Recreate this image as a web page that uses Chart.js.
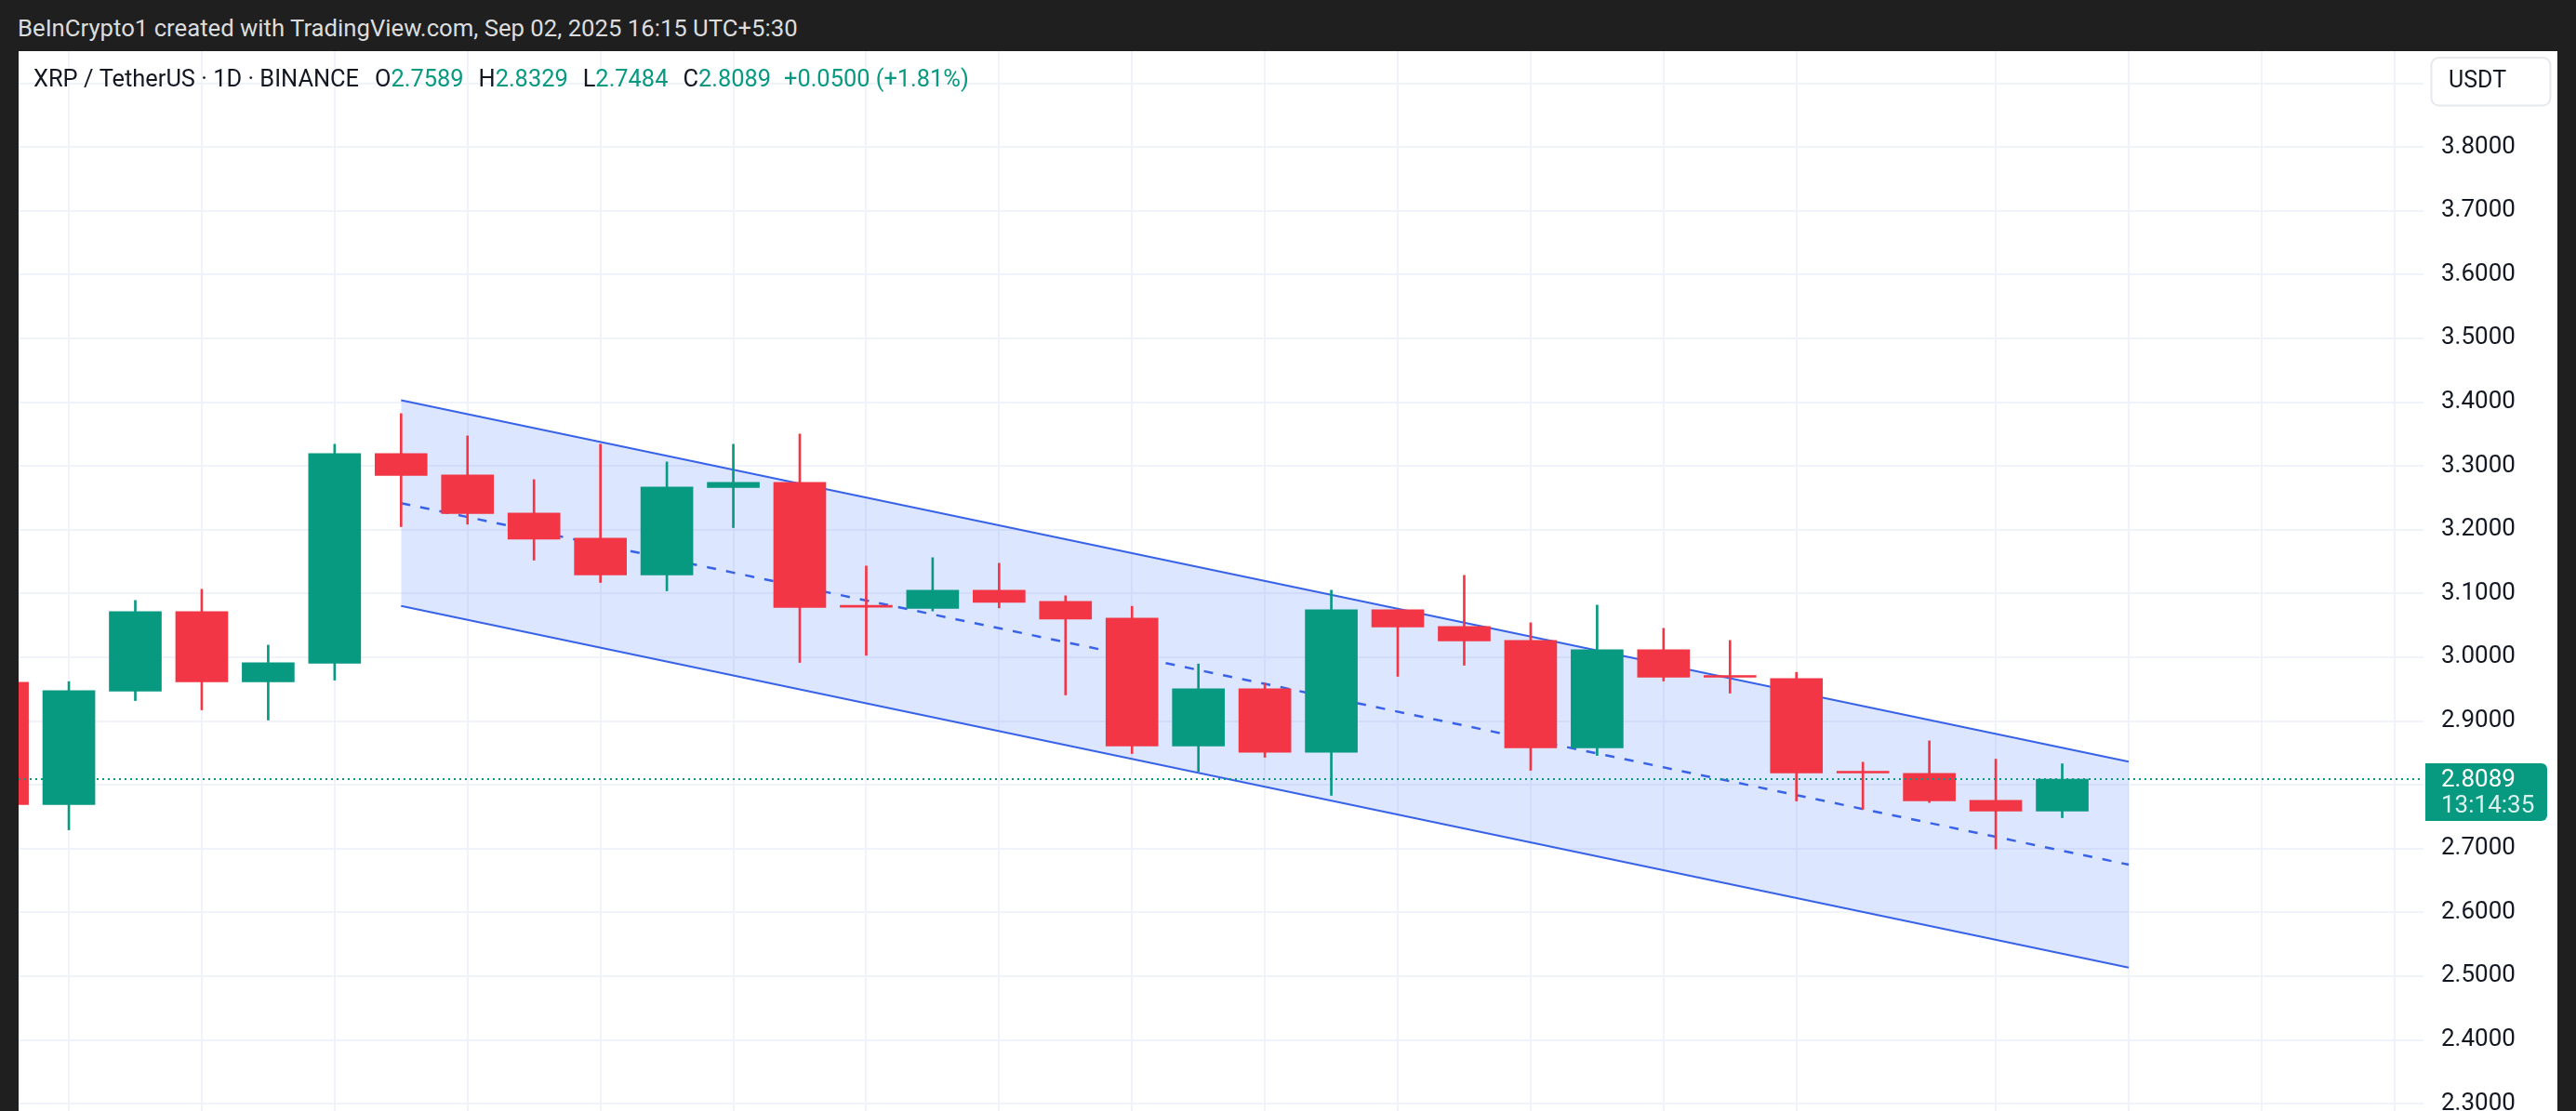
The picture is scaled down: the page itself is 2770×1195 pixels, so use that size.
<!DOCTYPE html>
<html>
<head>
<meta charset="utf-8">
<script src="https://cdn.jsdelivr.net/npm/chart.js@4.4.1/dist/chart.umd.min.js"></script>
<style>
html,body{margin:0;padding:0;background:#1f1f1f;width:2770px;height:1195px;overflow:hidden;}
#hdr{position:absolute;left:19px;top:0;height:60px;font:25.7px Roboto, sans-serif;line-height:60px;color:#dcdcdc;white-space:nowrap;}
#wrap{position:absolute;left:20px;top:55px;width:2730px;height:1140px;background:#fff;}
canvas{display:block;}
</style>
</head>
<body>
<div id="hdr">BeInCrypto1 created with TradingView.com, Sep 02, 2025 16:15 UTC+5:30</div>
<div id="wrap"><canvas id="c" width="2730" height="1140"></canvas></div>
<script>
// ---- data (daily candles, XRP / TetherUS, Binance) ----
const dates = [
  '2025-08-02','2025-08-03','2025-08-04','2025-08-05','2025-08-06','2025-08-07','2025-08-08','2025-08-09',
  '2025-08-10','2025-08-11','2025-08-12','2025-08-13','2025-08-14','2025-08-15','2025-08-16','2025-08-17',
  '2025-08-18','2025-08-19','2025-08-20','2025-08-21','2025-08-22','2025-08-23','2025-08-24','2025-08-25',
  '2025-08-26','2025-08-27','2025-08-28','2025-08-29','2025-08-30','2025-08-31','2025-09-01','2025-09-02'
];
const openV  = [2.9607,2.7688,2.9466,3.0715,2.9612,2.9904,3.3193,3.2858,3.2260,3.1867,3.1289,3.2659,3.2741,3.0798,3.0764,3.1051,
                3.0876,3.0613,2.8606,2.9505,2.8509,3.0744,3.0482,3.0263,2.8577,3.0118,2.9709,2.9666,2.8198,2.8179,2.7756,2.7589];
const highV  = [2.9750,2.9617,3.0890,3.1065,3.0190,3.3339,3.3820,3.3470,3.2785,3.3339,3.3062,3.3339,3.3500,3.1430,3.1561,3.1473,
                3.0963,3.0798,2.9894,2.9593,3.1051,3.0750,3.1284,3.0540,3.0817,3.0453,3.0263,2.9763,2.8354,2.8689,2.8402,2.8329];
const lowV   = [2.7450,2.7294,2.9320,2.9175,2.9015,2.9641,3.2047,3.2086,3.1522,3.1172,3.1041,3.2032,2.9918,3.0030,3.0725,3.0774,
                2.9408,2.8490,2.8208,2.8431,2.7834,2.9700,2.9875,2.8227,2.8460,2.9627,2.9437,2.7746,2.7615,2.7722,2.6993,2.7484];
const closeV = [2.7688,2.9476,3.0715,2.9612,2.9914,3.3193,3.2848,3.2251,3.1852,3.1289,3.2669,3.2741,3.0778,3.0783,3.1051,3.0861,
                3.0599,2.8606,2.9505,2.8509,3.0744,3.0472,3.0254,2.8577,3.0118,2.9685,2.9685,2.8184,2.8184,2.7746,2.7589,2.8089];

const yTickValues = [2.3,2.4,2.5,2.6,2.7,2.8,2.9,3.0,3.1,3.2,3.3,3.4,3.5,3.6,3.7,3.8,3.9];
const gridDates = ['2025-08-03','2025-08-05','2025-08-07','2025-08-09','2025-08-11','2025-08-13','2025-08-15',
                   '2025-08-17','2025-08-19','2025-08-21','2025-08-23','2025-08-25','2025-08-27','2025-08-29',
                   '2025-09-01','2025-09-03','2025-09-05','2025-09-07'];

// descending parallel channel (anchor dates and prices)
const channelDates = ['2025-08-08','2025-09-03'];
const channelUpper = [3.4029, 2.8361];
const channelMid   = [3.2416, 2.6748];
const channelLower = [3.0803, 2.5134];

const countdown = '13:14:35';
const symbolText = 'XRP / TetherUS · 1D · BINANCE';
const quoteCurrency = 'USDT';

// ---- helpers ----
const t0 = Date.parse(dates[0] + 'T00:00:00Z');
const dayIdx = d => (Date.parse(d + 'T00:00:00Z') - t0) / 86400000;
const UP = '#089981', DOWN = '#f23645';
const BLUE = '#3862e8';
const GRID = '#f0f3fa';
const TXT = '#131722';

const xMin = 0.2435, xMax = 36.437;
const yMin = 2.2885, yMax = 3.9503;

const n = dates.length;
const last = n - 1;
const lastPrice = closeV[last];
const colors = closeV.map((c, i) => c >= openV[i] ? UP : DOWN);
const bodies = dates.map((d, i) => ({x: dayIdx(d), y: [openV[i], closeV[i]]}));
const wicks  = dates.map((d, i) => ({x: dayIdx(d), y: [lowV[i], highV[i]]}));
const chanPts = arr => channelDates.map((d, i) => ({x: dayIdx(d), y: arr[i]}));

Chart.defaults.font.family = 'Roboto';

const overlay = {
  id: 'overlay',
  afterDraw(chart) {
    const ctx = chart.ctx;
    const ys = chart.scales.y;
    ctx.save();
    // legend line
    const chg = closeV[last] - closeV[last - 1];
    const pct = chg / closeV[last - 1] * 100;
    const sgn = chg >= 0 ? '+' : '−';
    const parts = [
      [symbolText, TXT, 17],
      ['O', TXT, 0], [openV[last].toFixed(4), UP, 16],
      ['H', TXT, 0], [highV[last].toFixed(4), UP, 16],
      ['L', TXT, 0], [lowV[last].toFixed(4), UP, 16],
      ['C', TXT, 0], [closeV[last].toFixed(4), UP, 14],
      [sgn + Math.abs(chg).toFixed(4) + ' (' + sgn + Math.abs(pct).toFixed(2) + '%)', UP, 0]
    ];
    ctx.font = '25.4px Roboto';
    ctx.textBaseline = 'middle';
    ctx.textAlign = 'left';
    let x = 16;
    for (const [t, c, g] of parts) {
      ctx.fillStyle = c;
      ctx.fillText(t, x, 32);
      x += ctx.measureText(t).width + g;
    }
    // currency box
    ctx.beginPath();
    ctx.roundRect(2594.5, 7, 128, 51.5, 8);
    ctx.fillStyle = '#ffffff';
    ctx.fill();
    ctx.lineWidth = 2;
    ctx.strokeStyle = '#e6e8ee';
    ctx.stroke();
    ctx.fillStyle = TXT;
    ctx.font = '25px Roboto';
    ctx.fillText(quoteCurrency, 2613, 33);
    // last price label
    const py = ys.getPixelForValue(lastPrice);
    ctx.beginPath();
    ctx.roundRect(2588, py - 17, 131, 62, [0, 6, 6, 0]);
    ctx.fillStyle = UP;
    ctx.fill();
    ctx.font = '26px Roboto';
    ctx.fillStyle = '#ffffff';
    ctx.fillText(lastPrice.toFixed(4), 2605, py + 1);
    ctx.fillStyle = 'rgba(255,255,255,0.85)';
    ctx.fillText(countdown, 2605, py + 29);
    ctx.restore();
  }
};

new Chart(document.getElementById('c'), {
  type: 'bar',
  data: {
    datasets: [
      {type: 'line', label: 'last', data: [{x: xMin, y: lastPrice}, {x: xMax, y: lastPrice}],
       borderColor: UP, borderWidth: 2, borderDash: [2, 4], pointRadius: 0, fill: false, order: 0},
      {type: 'bar', label: 'body', data: bodies, backgroundColor: colors, borderWidth: 0,
       barThickness: 56, minBarLength: 2, grouped: false, order: 1},
      {type: 'bar', label: 'wick', data: wicks, backgroundColor: colors, borderWidth: 0,
       barThickness: 2, grouped: false, order: 2},
      {type: 'line', label: 'upper', data: chanPts(channelUpper), borderColor: BLUE, borderWidth: 2,
       pointRadius: 0, fill: false, order: 3},
      {type: 'line', label: 'lower', data: chanPts(channelLower), borderColor: BLUE, borderWidth: 2,
       pointRadius: 0, fill: '-1', backgroundColor: 'rgba(41,98,255,0.16)', order: 3},
      {type: 'line', label: 'mid', data: chanPts(channelMid), borderColor: BLUE, borderWidth: 2.5,
       borderDash: [10, 11], pointRadius: 0, fill: false, order: 3}
    ]
  },
  options: {
    responsive: false,
    animation: false,
    devicePixelRatio: 1,
    layout: {padding: 0},
    plugins: {
      legend: {display: false},
      tooltip: {enabled: false},
      filler: {drawTime: 'beforeDatasetsDraw'}
    },
    scales: {
      x: {
        type: 'linear', min: xMin, max: xMax, offset: false,
        grid: {color: GRID, lineWidth: 2, offset: false, drawTicks: false},
        border: {display: false},
        ticks: {display: false},
        afterBuildTicks: s => { s.ticks = gridDates.map(d => ({value: dayIdx(d)})); },
        afterFit: s => { s.height = 0; s.paddingLeft = 0; s.paddingRight = 0; }
      },
      y: {
        type: 'linear', position: 'right', min: yMin, max: yMax,
        grid: {color: GRID, lineWidth: 2, drawTicks: false},
        border: {display: false},
        ticks: {
          padding: 19, color: TXT, font: {size: 26, family: 'Roboto'},
          callback: v => Number(v).toFixed(4)
        },
        afterBuildTicks: s => { s.ticks = yTickValues.map(v => ({value: v})); },
        afterFit: s => { s.width = 144; s.paddingTop = 0; s.paddingBottom = 0; }
      }
    }
  },
  plugins: [overlay]
});
</script>
</body>
</html>
